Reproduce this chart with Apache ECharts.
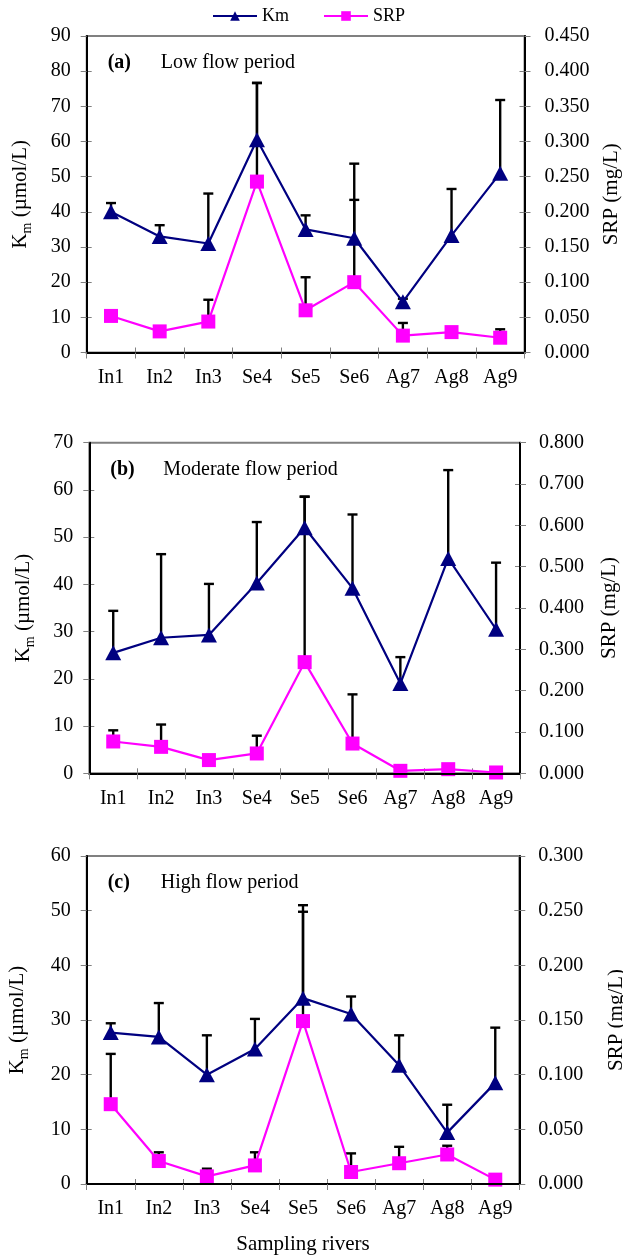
<!DOCTYPE html>
<html>
<head>
<meta charset="utf-8">
<script src="https://cdn.jsdelivr.net/npm/echarts@6/dist/echarts.min.js"></script>
<style>
  html, body { margin: 0; padding: 0; background: #fff; }
  #chart { width: 623px; height: 1255px; }
</style>
</head>
<body>
<div id="chart"></div>
<script>
  // 采样河流
  var categories = ['In1', 'In2', 'In3', 'Se4', 'Se5', 'Se6', 'Ag7', 'Ag8', 'Ag9']

  // (a) low flow
  var kmLow = [40, 33, 31, 60.5, 35, 32.5, 14.4, 33.3, 51]
  var kmLowSd = [2.5, 3.2, 14.2, 16.2, 4, 21.2, 0.9, 13.2, 20.8]
  var srpLow = [0.052, 0.030, 0.044, 0.243, 0.060, 0.100, 0.024, 0.029, 0.021]
  var srpLowSd = [null, null, 0.031, 0.140, 0.047, 0.117, 0.018, null, 0.012]

  // (b) moderate flow
  var kmMod = [25.5, 28.7, 29.3, 40.3, 52, 39.2, 19, 45.5, 30.5]
  var kmModSd = [8.9, 17.7, 10.8, 12.9, 6.6, 15.6, 5.6, 18.7, 14.1]
  var srpMod = [0.077, 0.064, 0.032, 0.048, 0.269, 0.072, 0.006, 0.010, 0.002]
  var srpModSd = [0.027, 0.054, null, 0.043, 0.400, 0.119, null, null, null]

  // (c) high flow
  var kmHigh = [27.7, 26.9, 20.0, 24.7, 34.0, 31.1, 21.7, 9.4, 18.5]
  var kmHighSd = [1.7, 6.2, 7.2, 5.5, 17.0, 3.2, 5.5, 5.1, 10.1]
  var srpHigh = [0.073, 0.021, 0.007, 0.017, 0.149, 0.011, 0.019, 0.027, 0.004]
  var srpHighSd = [0.046, 0.008, 0.007, 0.012, 0.100, 0.017, 0.015, 0.008, null]

  var panelTags = ['(a)', '(b)', '(c)']
  var panelTitles = ['Low flow period', 'Moderate flow period', 'High flow period']
  var kmMax = [90, 70, 60]
  var srpMax = [0.45, 0.8, 0.3]
  var srpStep = [0.05, 0.1, 0.05]

  var FONT = 'Liberation Serif'
  var panels = [
    {km: kmLow, kmSd: kmLowSd, srp: srpLow, srpSd: srpLowSd},
    {km: kmMod, kmSd: kmModSd, srp: srpMod, srpSd: srpModSd},
    {km: kmHigh, kmSd: kmHighSd, srp: srpHigh, srpSd: srpHighSd}
  ]
  // 网格位置
  var boxes = [
    {left: 86.7, top: 36, width: 437.8, height: 316.5, lGap: 52, rGap: 76, rMargin: 20},
    {left: 89.3, top: 442.7, width: 430.7, height: 330.6, lGap: 52, rGap: 79, rMargin: 19},
    {left: 86.7, top: 856, width: 432.6, height: 328, lGap: 55, rGap: 87, rMargin: 19}
  ]

  var grid = []
  var xAxis = []
  var yAxis = []
  var series = []
  var graphic = []

  function errBar (color) {
    return function (params, api) {
      var sd = api.value(2)
      if (!(sd > 0)) return
      var i = api.value(0)
      var v = api.value(1)
      var p0 = api.coord([i, v])
      var p1 = api.coord([i, v + sd])
      var st = {stroke: color, lineWidth: 2.4}
      return {
        type: 'group',
        children: [
          {type: 'line', shape: {x1: p0[0], y1: p0[1], x2: p1[0], y2: p1[1]}, style: st},
          {type: 'line', shape: {x1: p1[0] - 5, y1: p1[1], x2: p1[0] + 5, y2: p1[1]}, style: st}
        ]
      }
    }
  }

  var tickGray = '#808080'

  boxes.forEach(function (b, g) {
    grid.push({
      left: b.left, top: b.top, width: b.width, height: b.height,
      containLabel: false, outerBoundsMode: 'none',
      show: true, borderColor: tickGray, borderWidth: 2, backgroundColor: 'transparent'
    })
    // 主 x 轴
    xAxis.push({
      type: 'category', gridIndex: g, data: categories, boundaryGap: true, position: 'bottom',
      axisLine: {lineStyle: {color: '#000', width: 2}},
      axisTick: {show: true, length: 6, lineStyle: {color: tickGray, width: 1}},
      axisLabel: {fontFamily: FONT, fontSize: 20, color: '#000', margin: 15},
      name: g === 2 ? 'Sampling rivers' : '',
      nameLocation: 'middle', nameGap: 50,
      nameTextStyle: {fontFamily: FONT, fontSize: 21, color: '#000'},
      z: 5
    })
    // 内侧刻度
    xAxis.push({
      type: 'category', gridIndex: g, data: categories, boundaryGap: true, position: 'bottom',
      axisLine: {show: false},
      axisTick: {show: true, inside: true, length: 5, lineStyle: {color: tickGray, width: 1}},
      axisLabel: {show: false}
    })
    var kmAxis = {
      type: 'value', gridIndex: g, min: 0, max: kmMax[g], interval: 10, position: 'left',
      splitLine: {show: false},
      axisLine: {show: true, lineStyle: {color: '#000', width: 2}},
      axisTick: {show: true, length: 6, lineStyle: {color: tickGray, width: 1}},
      axisLabel: {fontFamily: FONT, fontSize: 20, color: '#000', margin: 16},
      name: '{t|K}{s|m}{t| (µmol/L)}',
      nameLocation: 'middle', nameGap: b.lGap, nameRotate: 90,
      nameTextStyle: {
        color: '#000',
        rich: {
          t: {fontFamily: FONT, fontSize: 21, lineHeight: 28, color: '#000', verticalAlign: 'middle'},
          s: {fontFamily: FONT, fontSize: 14, lineHeight: 14, color: '#000', verticalAlign: 'bottom'}
        }
      },
      z: 5
    }
    var srpAxis = {
      type: 'value', gridIndex: g, min: 0, max: srpMax[g], interval: srpStep[g], position: 'right',
      splitLine: {show: false},
      axisLine: {show: true, lineStyle: {color: '#000', width: 2}},
      axisTick: {show: true, length: 6, lineStyle: {color: tickGray, width: 1}},
      axisLabel: {
        fontFamily: FONT, fontSize: 20, color: '#000', margin: b.rMargin,
        formatter: function (v) { return v.toFixed(3) }
      },
      name: 'SRP (mg/L)',
      nameLocation: 'middle', nameGap: b.rGap, nameRotate: 90,
      nameTextStyle: {fontFamily: FONT, fontSize: 21, color: '#000'},
      z: 5
    }
    yAxis.push(kmAxis)
    yAxis.push({
      type: 'value', gridIndex: g, min: 0, max: kmMax[g], interval: 10, position: 'left',
      splitLine: {show: false}, axisLine: {show: false}, axisLabel: {show: false},
      axisTick: {show: true, inside: true, length: 5, lineStyle: {color: tickGray, width: 1}}
    })
    yAxis.push(srpAxis)
    yAxis.push({
      type: 'value', gridIndex: g, min: 0, max: srpMax[g], interval: srpStep[g], position: 'right',
      splitLine: {show: false}, axisLine: {show: false}, axisLabel: {show: false},
      axisTick: {show: true, inside: true, length: 5, lineStyle: {color: tickGray, width: 1}}
    })

    var p = panels[g]
    var xi = g * 2
    var yk = g * 4
    var ys = g * 4 + 2
    series.push({
      type: 'custom', xAxisIndex: xi, yAxisIndex: yk, z: 1, silent: true,
      renderItem: errBar('#000'),
      encode: {x: 0, y: 1},
      data: categories.map(function (c, i) { return [i, p.km[i], p.kmSd[i]] })
    })
    series.push({
      type: 'custom', xAxisIndex: xi, yAxisIndex: ys, z: 1, silent: true,
      renderItem: errBar('#000'),
      encode: {x: 0, y: 1},
      data: categories.map(function (c, i) { return [i, p.srp[i], p.srpSd[i]] })
    })
    series.push({
      name: 'Km', type: 'line', xAxisIndex: xi, yAxisIndex: yk, z: 3,
      symbol: 'triangle', symbolSize: [16, 15], showAllSymbol: true,
      itemStyle: {color: '#000080'},
      lineStyle: {color: '#000080', width: 2.2},
      data: p.km
    })
    series.push({
      name: 'SRP', type: 'line', xAxisIndex: xi, yAxisIndex: ys, z: 4,
      symbol: 'rect', symbolSize: 14, showAllSymbol: true,
      itemStyle: {color: '#FF00FF'},
      lineStyle: {color: '#FF00FF', width: 2.2},
      data: p.srp
    })

    // 面板标注
    var ty = b.top + 27
    graphic.push({
      type: 'text', x: b.left + 21, y: ty, z: 10,
      style: {text: panelTags[g], font: 'bold 20px "Liberation Serif"', fill: '#000', verticalAlign: 'middle'}
    })
    graphic.push({
      type: 'text', x: b.left + 74, y: ty, z: 10,
      style: {text: panelTitles[g], font: '20px "Liberation Serif"', fill: '#000', verticalAlign: 'middle'}
    })
  })

  var option = {
    animation: false,
    backgroundColor: '#fff',
    legend: {
      data: ['Km', 'SRP'],
      left: 212, top: 6, padding: 0,
      itemWidth: 44, itemHeight: 12, itemGap: 34,
      textStyle: {fontFamily: FONT, fontSize: 18, color: '#000', lineHeight: 20}
    },
    grid: grid,
    xAxis: xAxis,
    yAxis: yAxis,
    series: series,
    graphic: graphic
  }

  var chart = echarts.init(document.getElementById('chart'))
  chart.setOption(option, true)
  window.onresize = chart.resize
</script>
</body>
</html>
